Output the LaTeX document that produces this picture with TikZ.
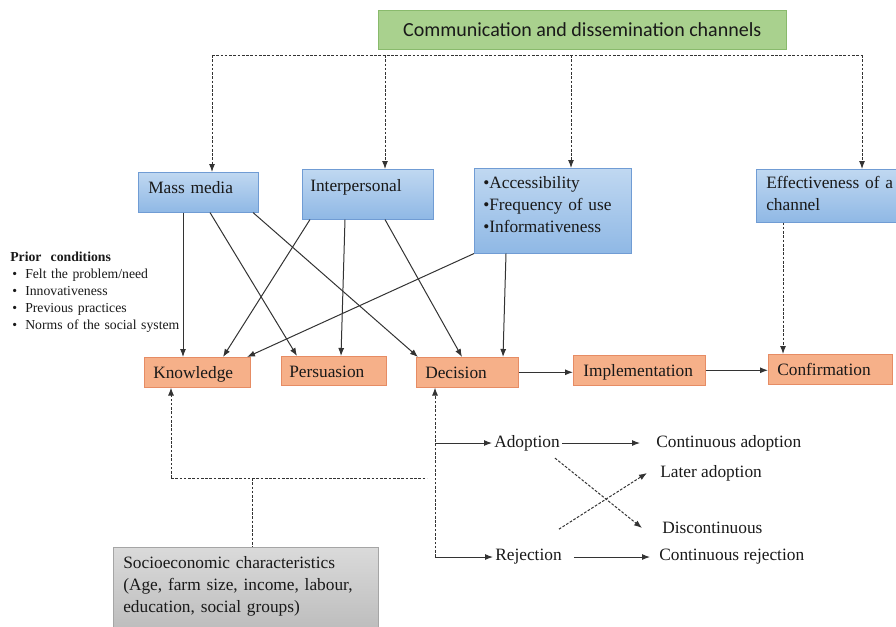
\documentclass[tikz,border=0pt]{standalone}
\usepackage{fontspec}
\setmainfont{Liberation Serif}
\newfontfamily\chanfont{Carlito}
\usetikzlibrary{calc,arrows.meta}
\definecolor{grfill}{RGB}{169,209,142}
\definecolor{grline}{RGB}{137,186,108}
\definecolor{bltop}{RGB}{192,216,241}
\definecolor{blbot}{RGB}{143,184,229}
\definecolor{blline}{RGB}{112,156,212}
\definecolor{orfill}{RGB}{246,176,137}
\definecolor{orline}{RGB}{230,140,100}
\definecolor{gytop}{RGB}{218,218,218}
\definecolor{gybot}{RGB}{186,186,186}
\definecolor{gyline}{RGB}{165,165,165}
\definecolor{ink}{RGB}{25,25,25}

\begin{document}
\begin{tikzpicture}[x=0.75pt, y=-0.75pt, >={Latex[length=6pt,width=4.5pt]},
  font=\fontsize{13}{16.5}\selectfont, text=ink,
  cbox/.style={draw=blline, top color=bltop, bottom color=blbot, anchor=north west, align=left, inner ysep=0pt},
  sbox/.style={draw=orline, fill=orfill, anchor=north west, align=left, inner ysep=0pt, text height=15.75pt, text depth=6.75pt},
  lab/.style={anchor=west, inner sep=0pt},
  conn/.style={draw=black!80, line width=0.75pt},
  dline/.style={conn, dash pattern=on 2pt off 1.2pt}]

\useasboundingbox (0,0) rectangle (896,626);

\node [draw=grline, fill=grfill, anchor=north west, minimum width=306pt, minimum height=29.25pt, inner sep=0pt, font=\chanfont\fontsize{15}{18}\selectfont] (chan) at (378,10) {Communication and dissemination channels};

\node [cbox, text width=75pt, inner xsep=7.5pt, text height=15.75pt, text depth=14.25pt] (mass) at (138,172) {Mass media};
\node [cbox, text width=86.25pt, inner xsep=6pt, text height=16.5pt, text depth=21pt] (inter) at (302,169) {Interpersonal};
\node [cbox, text width=104.25pt, inner xsep=6.75pt, text height=15pt, text depth=48.75pt] (access) at (474,168) {\textbullet Accessibility\\\textbullet Frequency of use\\\textbullet Informativeness};
\node [cbox, text width=105pt, inner xsep=7.5pt, text height=14.25pt, text depth=25.5pt] (eff) at (756,169) {Effectiveness of a\\channel};

\node [anchor=base west, align=left, text width=150pt, inner sep=0pt, font=\fontsize{10.3}{12.75}\selectfont] (prior) at (10,261) {\textbf{Prior\ \ conditions}\\
\hspace*{1.5pt}\makebox[9.75pt][l]{\textbullet}Felt the problem/need\\
\hspace*{1.5pt}\makebox[9.75pt][l]{\textbullet}Innovativeness\\
\hspace*{1.5pt}\makebox[9.75pt][l]{\textbullet}Previous practices\\
\hspace*{1.5pt}\makebox[9.75pt][l]{\textbullet}Norms of the social system};

\node [sbox, text width=66pt, inner xsep=6.75pt] (know) at (144,357) {Knowledge};
\node [sbox, text width=66.75pt, inner xsep=6pt, text depth=6pt] (pers) at (281,356) {Persuasion};
\node [sbox, text width=63pt, inner xsep=6.75pt] (dec) at (416,357) {Decision};
\node [sbox, text width=84pt, inner xsep=7.5pt] (impl) at (573,355) {Implementation};
\node [sbox, text width=79.5pt, inner xsep=6.75pt] (conf) at (768,354) {Confirmation};

\node [lab] (adopt) at (494,443) {Adoption};
\node [lab] (reject) at (495,557) {Rejection};
\node [lab] (cadopt) at (656,443) {Continuous adoption};
\node [lab] (later) at (660,473) {Later adoption};
\node [lab] (disc) at (662,528) {Discontinuous};
\node [lab] (creject) at (659,557) {Continuous rejection};

\node [draw=gyline, top color=gytop, bottom color=gybot, anchor=north west, align=left, inner ysep=0pt, text width=183.75pt, inner xsep=7.5pt, text height=15.75pt, text depth=51.75pt] (socio) at (113,547) {Socioeconomic characteristics\\(Age, farm size, income, labour,\\education, social groups)};

\coordinate (b1) at (212,55);
\coordinate (b2) at (385,55);
\coordinate (b3) at (571,55);
\coordinate (b4) at (862,55);
\draw [dline] (b1) -- (b4);
\draw [dline,->] (b1) -- (b1 |- mass.north);
\draw [dline,->] (b2) -- (b2 |- inter.north);
\draw [dline,->] (b3) -- (b3 |- access.north);
\draw [dline,->] (b4) -- (b4 |- eff.north);

\draw [conn,->] ($(mass.south west)+(45,0)$) -- ($(know.north west)+(39,0)$);
\draw [conn,->] ($(mass.south west)+(72,0)$) -- ($(pers.north west)+(16,0)$);
\draw [conn,->] ($(mass.south west)+(115,0)$) -- ($(dec.north west)+(2,0)$);
\draw [conn,->] ($(inter.south west)+(8,0)$) -- ($(know.north west)+(79,0)$);
\draw [conn,->] ($(inter.south west)+(43,0)$) -- ($(pers.north west)+(60,0)$);
\draw [conn,->] ($(inter.south west)+(83,0)$) -- ($(dec.north west)+(46,0)$);
\draw [conn,->] (access.south west) -- ($(know.north west)+(103,0)$);
\draw [conn,->] ($(access.south west)+(32,0)$) -- ($(dec.north west)+(87,0)$);
\draw [dline,->] ($(eff.south west)+(27,0)$) -- ($(conf.north west)+(15,0)$);

\draw [conn,->] (dec.east) -- (dec.east -| impl.west);
\draw [conn,->] (impl.east) -- (impl.east -| conf.west);

\coordinate (dd) at ($(dec.south west)+(19,0)$);
\draw [dline,->] (dd |- reject.west) -- (dd);
\draw [conn,->,shorten >=1.5pt] (dd |- adopt.west) -- (adopt.west);
\draw [conn,->,shorten >=1.5pt] (dd |- reject.west) -- (reject.west);
\draw [conn,->,shorten <=1.5pt,shorten >=12pt] (adopt.east) -- (adopt.east -| cadopt.west);
\draw [conn,->,shorten <=9pt,shorten >=6.75pt] (reject.east) -- (reject.east -| creject.west);
\draw [dline,->] ($(adopt.south east)+(-5,7)$) -- ($(disc.west)+(-20,0)$);
\draw [dline,->] ($(reject.north east)+(-3,-20)$) -- ($(later.west)+(-13,0)$);

\coordinate (s1) at (171,478);
\coordinate (s2) at (427,478);
\coordinate (s3) at (252,478);
\draw [dline] (s1) -- (s2);
\draw [dline,->] (s1) -- (s1 |- know.south);
\draw [dline] (s3) -- (s3 |- socio.north);
\end{tikzpicture}
\end{document}
